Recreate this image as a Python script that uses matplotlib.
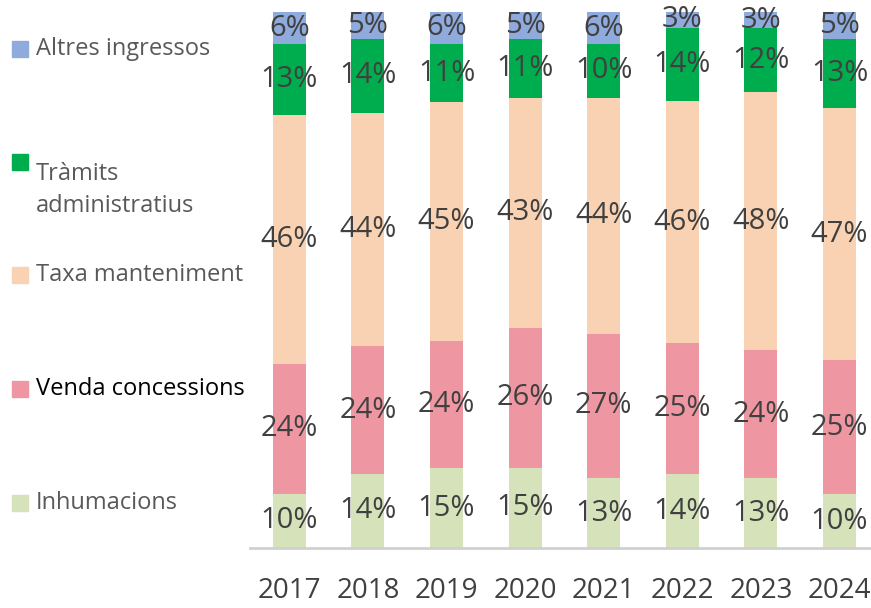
import numpy as np
import matplotlib.pyplot as plt
from matplotlib.patches import Rectangle

years = ['2017', '2018', '2019', '2020', '2021', '2022', '2023', '2024']
inhumacions = [10, 14, 15, 15, 13, 14, 13, 10]
venda = [24, 24, 24, 26, 27, 25, 24, 25]
taxa = [46, 44, 45, 43, 44, 46, 48, 47]
tramits = [13, 14, 11, 11, 10, 14, 12, 13]
altres = [6, 5, 6, 5, 6, 3, 3, 5]

names = ['Inhumacions', 'Venda concessions', 'Taxa manteniment',
         'Tràmits\nadministratius', 'Altres ingressos']
colors = ['#D6E2BA', '#EE96A2', '#F8D2B2', '#00AD4E', '#8FAADC']


def main():
    plt.rcParams['font.family'] = ['Open Sans', 'DejaVu Sans']
    series = np.array([inhumacions, venda, taxa, tramits, altres], dtype=float)
    share = series / series.sum(axis=0)
    x = np.arange(len(years))

    fig = plt.figure(figsize=(8.71, 6.08), dpi=100)
    ax = fig.add_axes([250/871, 60/608, 621/871, 536/608])

    bottom = np.zeros(len(years))
    for i in range(len(names)):
        ax.bar(x, share[i], 0.42, bottom=bottom, color=colors[i])
        for j in range(len(years)):
            ax.text(x[j], bottom[j] + share[i][j]/2, '%d%%' % series[i][j],
                    ha='center', va='center', fontsize=21, color='#404040')
        bottom += share[i]

    ax.set_xlim(-0.5, 7.4)
    ax.set_ylim(0, 1)
    ax.set_yticks([])
    ax.set_xticks(x)
    ax.set_xticklabels(years, fontsize=20, color='#404040')
    ax.tick_params(axis='x', length=0, pad=21)
    for s in ['top', 'right', 'left']:
        ax.spines[s].set_visible(False)
    ax.spines['bottom'].set_color('#D0D0D0')
    ax.spines['bottom'].set_linewidth(2)

    # manual legend on the left
    leg_y = [503, 389, 275, 162, 49]
    for i in range(len(names)):
        y = leg_y[i]
        fig.patches.append(Rectangle((12/871, 1 - (y+8)/608), 16/871, 16/608,
                                     transform=fig.transFigure, color=colors[i]))
        tcol = '#000000' if i == 1 else '#595959'
        fig.text(36/871, 1 - y/608, names[i], ha='left', va='top' if '\n' in names[i] else 'center',
                 fontsize=17, color=tcol, linespacing=1.45,
                 transform=fig.transFigure)

    fig.savefig('out.png', dpi=100)


main()
